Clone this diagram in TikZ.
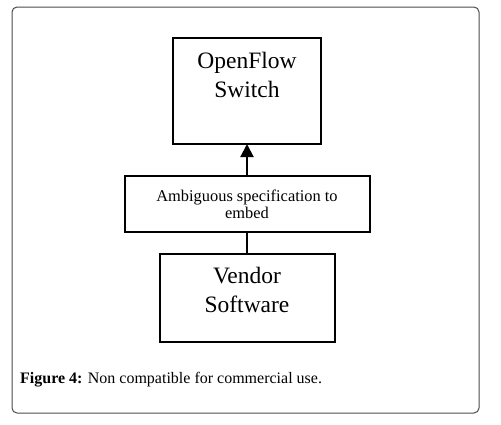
\documentclass[tikz,border=0pt]{standalone}
\usepackage{fontspec}
\setmainfont{Liberation Serif}
\usetikzlibrary{arrows.meta, positioning}

\begin{document}
\begin{tikzpicture}[
      x=1pt, y=-1pt,
      >={Triangle[width=13pt, length=13pt]},
      block/.style={
        rectangle, draw, line width=2pt, inner sep=0pt, outer sep=0pt
      },
      bigtext/.style={
        align=center, inner sep=0pt, font=\fontsize{23.5}{29}\selectfont
      }
    ]
    \useasboundingbox (0,0) rectangle (501,424);
    \draw[gray!60!black, line width=1pt, rounded corners=5pt] (12,7) rectangle (479,413);

    \node[block, minimum width=148pt, minimum height=106pt,
      label={[bigtext, anchor=north, yshift=-13.5pt]north:{OpenFlow\\Switch}}] (sw) at (247,91) {};
    \node[block, below=32pt of sw, minimum width=245pt, minimum height=56pt,
      align=center, font=\fontsize{16.4}{17.3}\selectfont] (amb)
      {Ambiguous specification to\\embed};
    \node[block, below=22pt of amb, minimum width=175pt, minimum height=88pt,
      label={[bigtext, anchor=north, yshift=-13pt]north:{Vendor\\Software}}] (ven) {};

    \draw[->, line width=2pt] (amb) -- (sw);
    \draw[line width=2pt] (amb) -- (ven);

    \node[anchor=base west, inner sep=0pt, font=\fontsize{16}{19}\selectfont] (cap) at (20,383)
      {\textbf{Figure 4:} Non compatible for commercial use.};
  \end{tikzpicture}
\end{document}
